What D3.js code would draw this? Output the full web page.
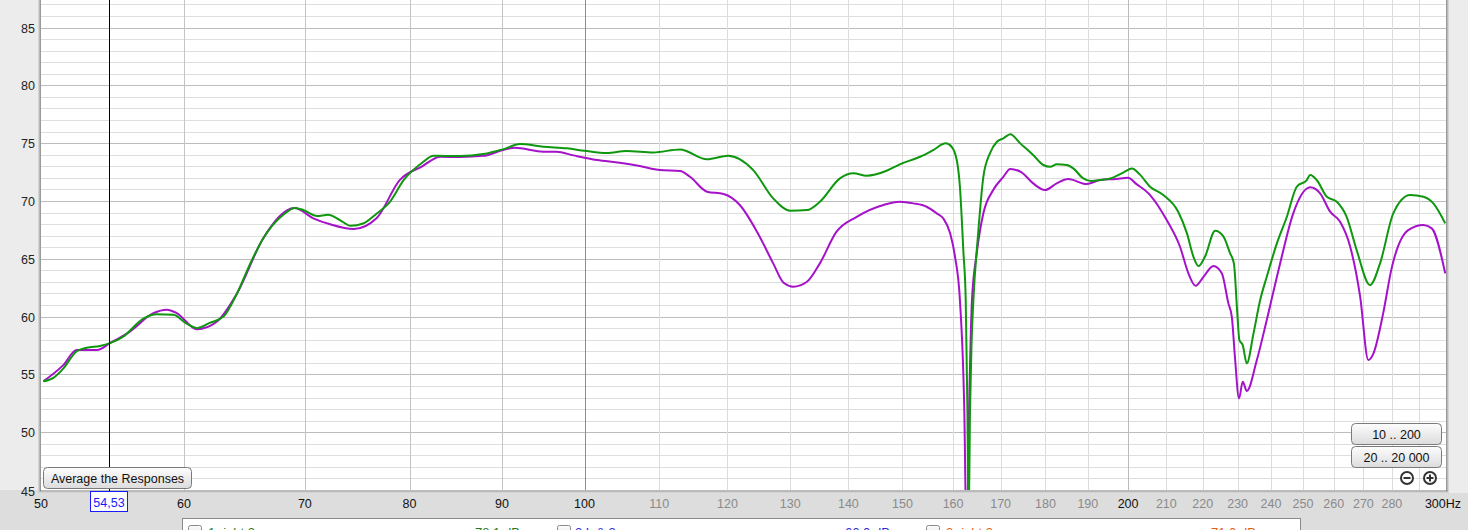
<!DOCTYPE html>
<html><head><meta charset="utf-8">
<script src="https://cdn.jsdelivr.net/npm/d3@7"></script>
<style>
html,body{margin:0;padding:0;background:#dddddd;overflow:hidden}
svg{display:block}
</style></head>
<body>
<svg id="chart" width="1468" height="530"></svg>
<script>
// ---- data ----
const greenHz = [50.15,50.8,51.44,52.33,53.0,53.9,54.6,55.5,57.0,57.95,59.2,60.2,61.0,62.0,63.1,64.2,65.3,66.4,68.1,69.1,69.9,71.1,72.1,73.2,74.2,75.4,76.7,78.0,79.4,81.3,82.5,85.3,87.9,90.1,92.1,94.9,97.8,100,102.9,105.5,109.2,112.95,116.9,120.1,124.0,127.2,130.0,132.8,135.0,138.5,140.9,143.3,147.0,149.5,153.4,156.0,158.5,159.7,160.75,161.4,162.1,162.6,162.95,163.2,163.5,163.8,164.2,165.2,166.3,167.7,169.2,170.6,172.1,174.3,177.2,179.5,181.1,182.6,184.95,186.5,188.9,190.9,193.0,196,199,201,203,205.7,209.2,213.2,215.6,217.4,218.8,220.6,223.5,225.8,227.8,228.9,229.9,230.5,231.5,232.7,234.7,236.7,238.7,241.8,244.9,248.0,251.2,252.3,254.4,257.7,261.0,264.3,267.7,272.3,275.8,280.5,286.6,291.5,295.2,299.7];
const greenDb = [54.4,54.7,55.5,57.0,57.3,57.45,57.7,58.25,59.85,60.2,60.15,59.4,59.0,59.45,60.0,62.0,64.6,66.8,68.8,69.4,69.2,68.7,68.8,68.35,67.85,68.05,68.9,69.9,71.8,73.3,73.9,73.88,74.06,74.46,74.92,74.69,74.55,74.34,74.14,74.32,74.2,74.46,73.6,73.91,72.67,70.22,69.15,69.21,69.93,71.95,72.39,72.18,72.61,73.17,73.82,74.4,74.98,74.69,73.54,71.23,65.75,61.43,52,42,52,57.5,61.43,67.2,72.09,74.12,75.12,75.42,75.76,74.98,73.97,73.11,72.96,73.17,73.11,72.82,71.95,71.72,71.81,72.0,72.5,72.8,72.3,71.23,70.51,69.07,67.2,65.17,64.37,65.17,67.42,66.96,65.47,64.6,60.28,57.97,57.53,55.95,58.55,61.43,63.44,66.33,68.63,71.23,71.81,72.24,71.81,70.36,69.93,68.63,65.75,62.72,64.6,68.93,70.51,70.36,69.79,68.06];
const purpleHz = [50.15,51.44,52.33,53.7,54.6,56.0,57.7,58.7,59.45,61.0,62.56,64.2,66.4,69.1,70.76,72.3,74.5,76.7,79.0,81.3,83.2,85.3,87.9,90.1,91.5,94.9,96.5,98.6,101.6,104.6,107.3,110.1,112.95,114.4,116.9,119.4,121.9,124.6,127.2,128.9,130.5,132.8,135.0,137.9,141.5,146.4,149.5,152.1,154.7,156.7,158.0,159.4,160.4,161.4,162.3,162.8,163.3,163.9,164.9,166.3,168.4,170.6,172.1,174.6,177.2,179.9,182.6,185.3,189.7,193.0,197,200,202,205.7,210.1,213.7,216.0,218.0,220.2,223.0,225.4,227.3,228.3,229.2,230.4,231.5,232.7,235.7,238.7,242.8,246.9,252.3,255.5,258.8,262.1,265.5,268.9,271.7,273.5,276.9,279.9,285.9,291.5,294.6,299.7];
const purpleDb = [54.4,55.8,57.1,57.1,57.7,58.7,60.3,60.6,60.3,58.9,59.55,62.0,66.8,69.4,68.5,67.98,67.57,68.5,71.8,73.0,73.82,73.8,73.9,74.4,74.6,74.26,74.26,73.94,73.54,73.3,73.02,72.67,72.59,72.09,70.8,70.6,69.65,67.34,64.6,62.92,62.58,63.01,64.6,67.34,68.63,69.65,69.93,69.79,69.5,68.93,68.5,67.2,65.17,61.43,52,40,52,61.43,65.47,68.93,70.94,72.09,72.76,72.47,71.52,70.94,71.52,71.89,71.46,71.81,71.9,72.0,71.5,70.51,68.35,66.04,63.74,62.66,63.44,64.37,63.74,61.14,59.98,56.52,52.92,54.36,53.56,56.24,59.7,64.6,68.93,71.18,70.66,69.07,68.2,66.04,61.71,56.24,56.82,60.28,64.17,67.48,67.92,67.63,63.74];
const yTicks = [45,50,55,60,65,70,75,80,85];
const xTicks = [50,60,70,80,90,100,110,120,130,140,150,160,170,180,190,200,210,220,230,240,250,260,270,280,290,300];
const xTickLabels = ["50","60","70","80","90","100","110","120","130","140","150","160","170","180","190","200","210","220","230","240","250","260","270","280","","300Hz"];
const darkLabels = [50,60,70,80,90,100,200,300];
const cursorHz = 54.53;
const cursorLabel = "54,53";
const legendItems = [
  {name:"1 right 3", level:"78.1 dB", color:"#1f7a1f"},
  {name:"2 L & 3", level:"66.0 dB", color:"#2b2bd6"},
  {name:"3 right 3", level:"71.0 dB", color:"#e06010"}
];

// ---- layout ----
const L = 41, R = 1446, T = 0, B = 490;
const svg = d3.select("#chart");
const x = d3.scaleLog().domain([50,300]).range([L,R]);
const y = d3.scaleLinear().domain([45,87.38]).range([B,T]);
const font = "'Liberation Sans', Arial, sans-serif";

const defs = svg.append("defs");
defs.append("clipPath").attr("id","plotclip").append("rect").attr("x",L).attr("y",T).attr("width",R-L).attr("height",B-T);
const btnGrad = defs.append("linearGradient").attr("id","btn").attr("x1",0).attr("y1",0).attr("x2",0).attr("y2",1);
btnGrad.append("stop").attr("offset","0%").attr("stop-color","#fdfdfd");
btnGrad.append("stop").attr("offset","100%").attr("stop-color","#dcdcdc");

// backgrounds
svg.append("rect").attr("x",0).attr("y",0).attr("width",1468).attr("height",530).attr("fill","#dddddd");
svg.append("rect").attr("x",0).attr("y",0).attr("width",L).attr("height",B).attr("fill","#ececec");
svg.append("rect").attr("x",R).attr("y",0).attr("width",1468-R).attr("height",B+3).attr("fill","#ececec");
svg.append("rect").attr("x",L).attr("y",T).attr("width",R-L).attr("height",B-T).attr("fill","#ffffff");

// plot borders (3D look)
[["#9a9a9a",0],["#b8b8b8",1],["#d4d4d4",2]].forEach(([c,i])=>{
  svg.append("rect").attr("x",L-1-i).attr("y",0).attr("width",1).attr("height",B+2).attr("fill",c);
  svg.append("rect").attr("x",R+i).attr("y",0).attr("width",1).attr("height",B+2).attr("fill",c);
  svg.append("rect").attr("x",L-3).attr("y",B+i).attr("width",R-L+6).attr("height",1).attr("fill",i==0?"#7a7a7a":c);
});

// grid
const grid = svg.append("g");
d3.range(45,88,1).forEach(v=>{
  grid.append("line").attr("x1",L).attr("x2",R).attr("y1",Math.round(y(v))+0.5).attr("y2",Math.round(y(v))+0.5)
    .attr("stroke", v%5===0 ? "#bcbcbc" : "#dedede").attr("stroke-width",1);
});
xTicks.forEach(f=>{
  let c = "#dcdcdc";
  if (f<100) c = "#c4c4c4";
  if (f===100) c = "#8c8c8c";
  if (f===200) c = "#bcbcbc";
  if (f===50 || f===300) return;
  grid.append("line").attr("x1",Math.round(x(f))+0.5).attr("x2",Math.round(x(f))+0.5).attr("y1",T).attr("y2",B)
    .attr("stroke",c).attr("stroke-width",1);
});

// y labels
yTicks.forEach(v=>{
  svg.append("text").attr("x",35).attr("y",v===45? y(v)+6 : y(v)+5)
    .attr("text-anchor","end").attr("font-family",font).attr("font-size","12.5px").attr("fill","#222").text(v);
});
// x labels
xTicks.forEach((f,i)=>{
  const lab = xTickLabels[i];
  if(!lab) return;
  const dark = darkLabels.includes(f);
  const xx = f===300 ? x(f)-3 : x(f);
  svg.append("text").attr("x",xx).attr("y",508).attr("text-anchor","middle")
    .attr("font-family",font).attr("font-size","12.5px").attr("fill",dark?"#111":"#8a8a8a").text(lab);
});

// curves
const line = d3.line().x(d=>x(d[0])).y(d=>y(d[1])).curve(d3.curveMonotoneX);
const plot = svg.append("g").attr("clip-path","url(#plotclip)");
const purple = purpleHz.map((f,i)=>[f,purpleDb[i]]);
const green = greenHz.map((f,i)=>[f,greenDb[i]]);
plot.append("path").attr("d",line(purple)).attr("fill","none").attr("stroke","#a512c9").attr("stroke-width",2).attr("stroke-linejoin","round");
plot.append("path").attr("d",line(green)).attr("fill","none").attr("stroke","#0f970f").attr("stroke-width",2).attr("stroke-linejoin","round");

// cursor
const cx = Math.round(x(cursorHz))+0.5;
svg.append("line").attr("x1",cx).attr("x2",cx).attr("y1",0).attr("y2",B+3).attr("stroke","#000").attr("stroke-width",1);
svg.append("rect").attr("x",90.5).attr("y",491.5).attr("width",37).attr("height",20).attr("fill","#ffffff").attr("stroke","#1a1aff");
svg.append("text").attr("x",109).attr("y",507).attr("text-anchor","middle").attr("font-family",font).attr("font-size","12.5px").attr("fill","#1a1aff").text(cursorLabel);

// buttons
function button(x0,y0,w,h,label){
  svg.append("rect").attr("x",x0+0.5).attr("y",y0+0.5).attr("width",w).attr("height",h).attr("rx",4)
    .attr("fill","url(#btn)").attr("stroke","#7a7a7a");
  svg.append("text").attr("x",x0+w/2+0.5).attr("y",y0+h/2+5).attr("text-anchor","middle")
    .attr("font-family",font).attr("font-size","12.5px").attr("fill","#111").text(label);
}
button(43,467,148,21,"Average the Responses");
button(1351,423,90,21,"10 .. 200");
button(1351,446,90,21,"20 .. 20 000");
// zoom icons
[[1407,478,"-"],[1430,478,"+"]].forEach(([cx0,cy0,s])=>{
  svg.append("circle").attr("cx",cx0).attr("cy",cy0).attr("r",6).attr("fill","#fff").attr("stroke","#333").attr("stroke-width",2);
  svg.append("rect").attr("x",cx0-3.5).attr("y",cy0-1).attr("width",7).attr("height",2).attr("fill","#333");
  if(s==="+") svg.append("rect").attr("x",cx0-1).attr("y",cy0-3.5).attr("width",2).attr("height",7).attr("fill","#333");
});

// legend panel (cut off at bottom)
svg.append("rect").attr("x",182.5).attr("y",518.5).attr("width",1118).attr("height",30).attr("fill","#ffffff").attr("stroke","#8a8a8a");
const legX = [[188,208,475],[557,575,845],[926,946,1211]];
legendItems.forEach((it,i)=>{
  const [bx,tx,lx] = legX[i];
  svg.append("rect").attr("x",bx+0.5).attr("y",525.5).attr("width",13).attr("height",13).attr("rx",2).attr("fill","url(#btn)").attr("stroke","#8a8a8a");
  svg.append("text").attr("x",tx).attr("y",537).attr("font-family",font).attr("font-size","13px").attr("fill",it.color).text(it.name);
  svg.append("text").attr("x",lx).attr("y",537).attr("font-family",font).attr("font-size","13px").attr("fill",it.color).text(it.level);
});
</script>
</body></html>
